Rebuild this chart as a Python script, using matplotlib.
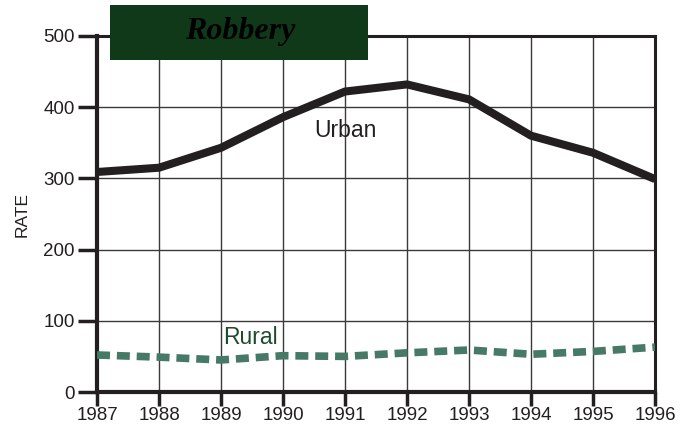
import matplotlib.pyplot as plt
from matplotlib.patches import Rectangle

years = [1987, 1988, 1989, 1990, 1991, 1992, 1993, 1994, 1995, 1996]
urban = [309, 315, 343, 386, 422, 432, 411, 360, 336, 299]
rural = [52, 49, 45, 51, 50, 55, 59, 53, 57, 63]
yticks = [0, 100, 200, 300, 400, 500]

plt.rcParams['font.family'] = ['Liberation Sans', 'DejaVu Sans']

fig = plt.figure(figsize=(6.8, 4.36), dpi=100)
ax = fig.add_axes([97 / 680, 44 / 436, 558 / 680, 356 / 436])

ax.plot(years, urban, color='#231f20', lw=5.8, solid_capstyle='butt', zorder=3)
ax.plot(years, rural, color='#477a66', lw=5.5, dashes=(1.7, 0.9),
        dash_capstyle='butt', zorder=3)

ax.set_xlim(1987, 1996)
ax.set_ylim(0, 500)
ax.set_xticks(years)
ax.set_yticks(yticks)
ax.tick_params(axis='both', labelsize=13.5, colors='#231f20', width=2.5)
ax.tick_params(axis='y', length=14, pad=2)
ax.tick_params(axis='x', length=10, pad=1)
ax.grid(True, color='#3a3a3a', lw=1.0)
ax.set_axisbelow(True)

for side in ['left', 'bottom']:
    ax.spines[side].set_linewidth(3)
for side in ['top', 'right']:
    ax.spines[side].set_linewidth(2.2)
for s in ax.spines.values():
    s.set_color('#231f20')

ax.set_ylabel('RATE', fontsize=12.5, color='#231f20', labelpad=10)

ax.text(1991.0, 367, 'Urban', fontsize=16.5, color='#231f20', ha='center', va='center')
ax.text(1989.47, 76, 'Rural', fontsize=16.5, color='#1f4d2b', ha='center', va='center')

fig.patches.append(Rectangle((110 / 680, 376 / 436), 258 / 680, 55 / 436,
                             transform=fig.transFigure, facecolor='#10391a',
                             edgecolor='none', zorder=10))
fig.text(240 / 680, 404 / 436, 'Robbery', fontsize=23, fontweight='bold',
         fontstyle='italic', family='Liberation Serif', color='black',
         ha='center', va='center', zorder=11)

fig.savefig('out.png', dpi=100)
